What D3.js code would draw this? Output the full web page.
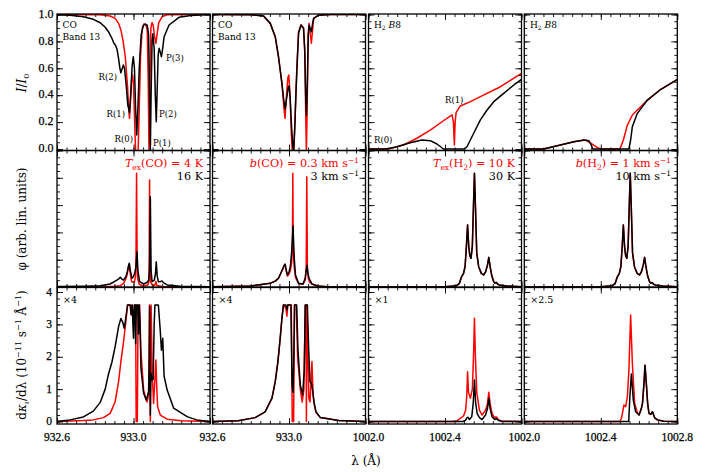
<!DOCTYPE html>
<html><head><meta charset="utf-8">
<script src="https://cdn.jsdelivr.net/npm/d3@7"></script>
<style>body{margin:0;background:#fff} text{font-family:"DejaVu Serif",serif;fill:#000}</style>
</head><body><svg id="c" width="709" height="472"></svg>
<script>
// ---------- DATA ----------
// Top row: normalized intensity I/I0 vs wavelength (Å)
const topCO4K = [[932.600,1.000],[932.826,0.999],[932.878,0.989],[932.904,0.971],[932.922,0.934],[932.934,0.885],[932.945,0.810],[932.957,0.686],[932.969,0.463],[932.975,0.300],[932.979,0.228],[932.984,0.350],[932.990,0.520],[932.995,0.550],[933.000,0.480],[933.006,0.200],[933.011,-0.02],[933.024,-0.02],[933.030,0.300],[933.037,0.700],[933.046,0.900],[933.055,0.930],[933.065,0.925],[933.072,0.880],[933.077,0.500],[933.081,-0.02],[933.085,0.400],[933.091,0.900],[933.097,0.940],[933.103,0.920],[933.110,0.840],[933.117,0.786],[933.124,0.860],[933.132,0.940],[933.150,0.985],[933.176,0.998],[933.400,1.000]];
const topCO16K = [[932.600,0.998],[932.668,0.994],[932.738,0.984],[932.790,0.964],[932.826,0.939],[932.852,0.905],[932.869,0.872],[932.887,0.823],[932.897,0.788],[932.906,0.772],[932.914,0.740],[932.922,0.672],[932.929,0.600],[932.934,0.567],[932.940,0.595],[932.947,0.625],[932.953,0.600],[932.962,0.470],[932.970,0.330],[932.979,0.270],[932.986,0.420],[932.993,0.620],[932.999,0.686],[933.005,0.600],[933.011,0.300],[933.017,0.104],[933.023,0.300],[933.030,0.600],[933.040,0.850],[933.052,0.920],[933.062,0.929],[933.072,0.920],[933.079,0.850],[933.084,0.400],[933.088,-0.02],[933.092,0.400],[933.097,0.800],[933.101,0.856],[933.108,0.750],[933.114,0.400],[933.119,0.203],[933.124,0.450],[933.129,0.700],[933.134,0.749],[933.140,0.720],[933.146,0.686],[933.152,0.740],[933.160,0.835],[933.186,0.922],[933.238,0.979],[933.300,0.993],[933.400,1.000]];
const topCOb03 = [[932.600,1.000],[932.800,0.998],[932.867,0.989],[932.902,0.934],[932.928,0.835],[932.945,0.686],[932.963,0.488],[932.972,0.330],[932.979,0.228],[932.986,0.380],[932.994,0.530],[932.999,0.550],[933.005,0.420],[933.012,0.120],[933.017,-0.02],[933.025,-0.02],[933.031,0.200],[933.037,0.450],[933.042,0.640],[933.050,0.870],[933.063,0.925],[933.076,0.900],[933.083,0.700],[933.088,0.200],[933.091,-0.02],[933.095,0.300],[933.100,0.850],[933.105,0.935],[933.111,0.860],[933.117,0.786],[933.123,0.880],[933.129,0.972],[933.155,0.995],[933.217,1.000],[933.400,1.000]];
const topCOb3 = [[932.600,1.000],[932.800,0.998],[932.867,0.989],[932.902,0.934],[932.928,0.835],[932.945,0.686],[932.963,0.488],[932.973,0.360],[932.980,0.300],[932.988,0.380],[932.996,0.460],[933.000,0.468],[933.006,0.380],[933.014,0.150],[933.020,0.020],[933.024,-0.02],[933.030,0.150],[933.036,0.400],[933.042,0.610],[933.050,0.860],[933.063,0.920],[933.076,0.897],[933.082,0.750],[933.087,0.400],[933.091,0.253],[933.096,0.500],[933.101,0.850],[933.105,0.920],[933.110,0.900],[933.117,0.872],[933.123,0.930],[933.129,0.972],[933.155,0.995],[933.217,1.000],[933.400,1.000]];
const topH2T10 = [[1002.000,0.000],[1002.100,0.000],[1002.140,0.012],[1002.183,0.030],[1002.253,0.080],[1002.323,0.141],[1002.392,0.210],[1002.437,0.253],[1002.444,0.200],[1002.449,0.030],[1002.453,0.200],[1002.458,0.270],[1002.480,0.320],[1002.533,0.352],[1002.585,0.389],[1002.690,0.463],[1002.800,0.563]];
const topH2T30 = [[1002.000,0.000],[1002.095,0.000],[1002.148,0.017],[1002.218,0.047],[1002.279,0.067],[1002.323,0.062],[1002.358,0.037],[1002.392,0.000],[1002.501,0.000],[1002.515,0.017],[1002.550,0.117],[1002.585,0.216],[1002.620,0.290],[1002.655,0.352],[1002.707,0.414],[1002.760,0.476],[1002.800,0.518]];
const topH2b1 = [[1002.000,0.000],[1002.101,0.000],[1002.189,0.030],[1002.259,0.054],[1002.320,0.067],[1002.355,0.037],[1002.381,0.012],[1002.399,0.000],[1002.500,0.000],[1002.518,0.067],[1002.539,0.178],[1002.565,0.253],[1002.591,0.290],[1002.644,0.364],[1002.714,0.444],[1002.801,0.518]];
const topH2b10 = [[1002.000,0.000],[1002.101,0.000],[1002.189,0.030],[1002.259,0.054],[1002.311,0.067],[1002.337,0.062],[1002.350,0.030],[1002.358,0.000],[1002.547,0.000],[1002.556,0.067],[1002.565,0.166],[1002.591,0.265],[1002.644,0.364],[1002.714,0.444],[1002.801,0.518]];

// Middle row: line profile phi (arbitrary linear units)
const phiCO4K = [[932.600,0.000],[932.850,0.002],[932.900,0.006],[932.931,0.010],[932.948,0.027],[932.960,0.060],[932.966,0.088],[932.973,0.140],[932.978,0.168],[932.983,0.100],[932.990,0.040],[933.004,0.032],[933.011,0.080],[933.013,0.200],[933.016,0.833],[933.019,0.200],[933.022,0.060],[933.030,0.020],[933.050,0.007],[933.075,0.015],[933.080,0.040],[933.082,0.200],[933.084,0.784],[933.086,0.200],[933.089,0.040],[933.100,0.010],[933.112,0.015],[933.117,0.040],[933.122,0.012],[933.150,0.003],[933.400,0.000]];
const phiCO16K = [[932.600,0.003],[932.738,0.006],[932.826,0.010],[932.878,0.022],[932.913,0.051],[932.925,0.062],[932.931,0.071],[932.938,0.060],[932.948,0.051],[932.960,0.075],[932.966,0.100],[932.973,0.150],[932.978,0.174],[932.983,0.120],[932.992,0.064],[933.000,0.075],[933.006,0.100],[933.013,0.150],[933.018,0.259],[933.023,0.120],[933.032,0.039],[933.053,0.022],[933.072,0.035],[933.079,0.051],[933.084,0.120],[933.088,0.662],[933.092,0.120],[933.097,0.039],[933.109,0.051],[933.115,0.100],[933.119,0.185],[933.124,0.080],[933.130,0.039],[933.142,0.040],[933.149,0.044],[933.158,0.030],[933.176,0.015],[933.245,0.005],[933.400,0.002]];
const phiCOb03 = [[932.600,0.002],[932.797,0.007],[932.902,0.027],[932.930,0.045],[932.945,0.064],[932.960,0.110],[932.968,0.130],[932.975,0.155],[932.980,0.160],[932.986,0.115],[932.992,0.080],[933.000,0.095],[933.007,0.120],[933.014,0.180],[933.018,0.300],[933.020,0.833],[933.022,0.300],[933.027,0.150],[933.034,0.070],[933.050,0.025],[933.073,0.020],[933.085,0.050],[933.090,0.150],[933.093,0.808],[933.096,0.150],[933.101,0.060],[933.110,0.030],[933.115,0.035],[933.120,0.020],[933.150,0.008],[933.199,0.002],[933.400,0.000]];
const phiCOb3 = [[932.600,0.002],[932.797,0.007],[932.902,0.027],[932.930,0.045],[932.945,0.064],[932.960,0.110],[932.968,0.137],[932.975,0.160],[932.980,0.168],[932.986,0.120],[932.992,0.088],[933.000,0.110],[933.007,0.150],[933.014,0.260],[933.021,0.449],[933.027,0.220],[933.034,0.088],[933.050,0.027],[933.073,0.022],[933.085,0.066],[933.090,0.120],[933.094,0.159],[933.099,0.100],[933.105,0.064],[933.120,0.022],[933.150,0.008],[933.199,0.002],[933.400,0.000]];
const phiH2 = [[1002.000,0.000],[1002.400,0.002],[1002.460,0.010],[1002.475,0.025],[1002.485,0.070],[1002.497,0.100],[1002.505,0.150],[1002.512,0.300],[1002.518,0.454],[1002.524,0.300],[1002.530,0.230],[1002.536,0.210],[1002.543,0.300],[1002.549,0.600],[1002.554,0.833],[1002.559,0.600],[1002.566,0.250],[1002.576,0.149],[1002.590,0.100],[1002.602,0.088],[1002.612,0.110],[1002.622,0.160],[1002.629,0.217],[1002.636,0.150],[1002.645,0.080],[1002.655,0.039],[1002.662,0.028],[1002.669,0.033],[1002.676,0.020],[1002.690,0.012],[1002.725,0.007],[1002.800,0.002]];

// Bottom row: dk/dλ (scaled, clipped at top)
const dkCO4K = [[932.600,0.00],[932.738,0.03],[932.790,0.05],[932.843,0.12],[932.878,0.25],[932.904,0.61],[932.922,1.23],[932.934,1.85],[932.948,2.46],[932.960,3.08],[932.969,3.60],[932.983,3.60],[932.987,3.30],[932.992,3.60],[933.000,3.20],[933.006,3.60],[933.011,3.60],[933.014,0.00],[933.020,0.00],[933.024,3.60],[933.032,3.60],[933.039,2.15],[933.053,0.96],[933.071,0.60],[933.079,0.84],[933.083,3.60],[933.088,0.00],[933.092,3.60],[933.098,1.50],[933.105,0.56],[933.111,1.20],[933.117,1.90],[933.122,1.00],[933.126,0.46],[933.140,0.20],[933.176,0.07],[933.250,0.02],[933.400,0.00]];
const dkCO16K = [[932.600,0.00],[932.668,0.05],[932.738,0.14],[932.790,0.32],[932.826,0.59],[932.852,1.00],[932.869,1.46],[932.887,1.83],[932.904,2.31],[932.922,2.93],[932.934,3.18],[932.943,3.08],[932.952,2.88],[932.962,3.30],[932.969,3.60],[932.983,3.60],[932.988,3.30],[932.993,3.60],[933.000,2.57],[933.004,3.60],[933.008,3.60],[933.011,2.40],[933.015,3.60],[933.022,3.60],[933.026,2.70],[933.030,3.60],[933.034,3.00],[933.039,1.64],[933.053,0.87],[933.067,0.66],[933.079,0.92],[933.083,2.00],[933.085,3.55],[933.088,0.20],[933.091,1.50],[933.097,1.28],[933.103,1.30],[933.108,3.00],[933.112,3.60],[933.130,3.60],[933.140,2.80],[933.146,2.20],[933.153,2.57],[933.160,1.40],[933.176,0.97],[933.210,0.41],[933.280,0.15],[933.330,0.05],[933.400,0.00]];
const dkCOb03 = [[932.600,0.00],[932.735,0.02],[932.823,0.12],[932.875,0.30],[932.911,0.72],[932.928,1.23],[932.942,1.85],[932.954,2.57],[932.963,3.19],[932.971,3.60],[932.984,3.50],[932.989,3.25],[932.994,3.60],[933.012,3.60],[933.017,0.00],[933.024,0.00],[933.029,3.60],[933.038,3.60],[933.045,2.00],[933.059,1.00],[933.069,0.60],[933.078,1.00],[933.085,3.60],[933.089,3.60],[933.091,0.00],[933.094,3.60],[933.099,2.00],[933.104,0.72],[933.110,0.60],[933.115,1.20],[933.120,1.85],[933.126,0.80],[933.131,0.55],[933.141,0.28],[933.164,0.12],[933.260,0.03],[933.400,0.00]];
const dkCOb3 = [[932.600,0.00],[932.735,0.02],[932.823,0.12],[932.875,0.30],[932.911,0.72],[932.928,1.23],[932.942,1.85],[932.954,2.57],[932.963,3.19],[932.971,3.60],[932.984,3.60],[932.989,3.45],[932.994,3.60],[933.010,3.60],[933.016,1.13],[933.021,0.90],[933.025,2.00],[933.029,3.60],[933.040,3.60],[933.047,2.20],[933.059,1.13],[933.071,0.82],[933.080,1.60],[933.085,3.60],[933.096,3.60],[933.103,2.20],[933.110,1.23],[933.117,1.18],[933.124,0.95],[933.131,0.60],[933.141,0.30],[933.164,0.12],[933.260,0.03],[933.400,0.00]];
const dkH2T10 = [[1002.000,0.00],[1002.440,0.00],[1002.463,0.02],[1002.480,0.10],[1002.497,0.17],[1002.508,0.35],[1002.514,0.80],[1002.518,1.54],[1002.523,0.90],[1002.533,0.72],[1002.543,1.00],[1002.549,2.00],[1002.554,3.19],[1002.559,2.00],[1002.566,0.90],[1002.580,0.35],[1002.594,0.20],[1002.612,0.35],[1002.622,0.55],[1002.629,0.90],[1002.636,0.55],[1002.646,0.25],[1002.658,0.12],[1002.669,0.14],[1002.680,0.05],[1002.700,0.01],[1002.800,0.00]];
const dkH2T30 = [[1002.000,0.00],[1002.495,0.00],[1002.508,0.04],[1002.515,0.12],[1002.520,0.13],[1002.528,0.06],[1002.540,0.15],[1002.548,0.60],[1002.554,1.28],[1002.560,0.60],[1002.568,0.25],[1002.580,0.12],[1002.594,0.06],[1002.612,0.20],[1002.622,0.40],[1002.629,0.72],[1002.636,0.40],[1002.646,0.15],[1002.660,0.06],[1002.669,0.09],[1002.680,0.03],[1002.700,0.00],[1002.800,0.00]];
const dkH2b1 = [[1002.000,0.00],[1002.500,0.00],[1002.508,0.10],[1002.513,0.25],[1002.521,0.51],[1002.530,0.46],[1002.539,0.77],[1002.547,1.60],[1002.556,3.29],[1002.565,1.80],[1002.577,0.56],[1002.590,0.30],[1002.600,0.20],[1002.612,0.40],[1002.618,0.56],[1002.626,1.20],[1002.631,1.74],[1002.638,1.18],[1002.645,0.55],[1002.652,0.25],[1002.661,0.22],[1002.670,0.30],[1002.682,0.11],[1002.696,0.05],[1002.730,0.01],[1002.800,0.00]];
const dkH2b10 = [[1002.000,0.00],[1002.546,0.00],[1002.552,0.77],[1002.560,1.47],[1002.570,0.66],[1002.582,0.30],[1002.600,0.20],[1002.612,0.40],[1002.618,0.56],[1002.626,1.20],[1002.631,1.74],[1002.638,1.18],[1002.645,0.55],[1002.652,0.25],[1002.661,0.22],[1002.670,0.30],[1002.682,0.11],[1002.696,0.05],[1002.730,0.01],[1002.800,0.00]];

// Axis ranges and tick labels
const xDomains = [[932.6,933.4],[932.6,933.4],[1002.0,1002.8],[1002.0,1002.8]];
const xTickLabels = [["932.6","933.0"],["932.6","933.0"],["1002.0","1002.4"],["1002.0","1002.4","1002.8"]];
const yTopLabels = ["0.0","0.2","0.4","0.6","0.8","1.0"];
const yBotLabels = ["0","1","2","3","4"];
const scaleLabels = ["×4","×4","×1","×2.5"];

// ---------- LAYOUT ----------
const svg = d3.select("#c");
svg.append("rect").attr("width",709).attr("height",472).attr("fill","#fff");
const colLeft = [57,212.5,368.5,524.3], panelW = 153;
const rowTop = [14,150.5,287.5], panelH = 136.5;
const yScales = [
  d3.scaleLinear().domain([0,1]).range([149,14.5]),
  d3.scaleLinear().domain([0,1]).range([287,150.5]),
  d3.scaleLinear().domain([0,4]).range([421.5,292])
];
const yMajor = [d3.range(0,1.0001,0.2), d3.range(0,1.0001,0.2), d3.range(0,4.001,1)];
const yMinor = [d3.range(0,1.0001,0.05), d3.range(0,1.0001,0.05), d3.range(0,4.001,0.2)];

const curves = [
  [[topCO4K,topCO16K],[topCOb03,topCOb3],[topH2T10,topH2T30],[topH2b1,topH2b10]],
  [[phiCO4K,phiCO16K],[phiCOb03,phiCOb3],[phiH2,phiH2],[phiH2,phiH2]],
  [[dkCO4K,dkCO16K],[dkCOb03,dkCOb3],[dkH2T10,dkH2T30],[dkH2b1,dkH2b10]]
];

const defs = svg.append("defs");
const xScales = colLeft.map((l,c)=>d3.scaleLinear().domain(xDomains[c]).range([l,l+panelW]));

for (let r=0;r<3;r++){
  for (let c=0;c<4;c++){
    const x = xScales[c], y = yScales[r];
    const L = colLeft[c], T = rowTop[r], R = L+panelW, B = T+panelH;
    const id = `clip${r}${c}`;
    defs.append("clipPath").attr("id",id).append("rect").attr("x",L).attr("y",T).attr("width",panelW).attr("height",panelH);
    const g = svg.append("g");
    const line = d3.line().x(d=>x(d[0])).y(d=>y(d[1]));
    const [red,black] = curves[r][c];
    const cg = g.append("g").attr("clip-path",`url(#${id})`);
    cg.append("path").datum(red).attr("d",line).attr("fill","none").attr("stroke","#ff0000").attr("stroke-width",1.5).attr("stroke-linejoin","round");
    cg.append("path").datum(black).attr("d",line).attr("fill","none").attr("stroke","#000").attr("stroke-width",1.5).attr("stroke-linejoin","round");

    // ticks
    const xMaj = d3.range(xDomains[c][0], xDomains[c][1]+1e-6, 0.4);
    const xMin = d3.range(xDomains[c][0], xDomains[c][1]+1e-6, 0.05);
    const tickStyle = s => { s.select(".domain").remove(); s.selectAll("line").attr("stroke","#000").attr("stroke-width",0.9); s.selectAll("text").remove(); };
    g.append("g").attr("transform",`translate(0,${B})`).call(d3.axisBottom(x).tickValues(xMin).tickSize(-3)).call(tickStyle);
    g.append("g").attr("transform",`translate(0,${B})`).call(d3.axisBottom(x).tickValues(xMaj).tickSize(-6)).call(tickStyle);
    g.append("g").attr("transform",`translate(0,${T})`).call(d3.axisTop(x).tickValues(xMin).tickSize(-3)).call(tickStyle);
    g.append("g").attr("transform",`translate(0,${T})`).call(d3.axisTop(x).tickValues(xMaj).tickSize(-6)).call(tickStyle);
    g.append("g").attr("transform",`translate(${L},0)`).call(d3.axisLeft(y).tickValues(yMinor[r]).tickSize(-3)).call(tickStyle);
    g.append("g").attr("transform",`translate(${L},0)`).call(d3.axisLeft(y).tickValues(yMajor[r]).tickSize(-6)).call(tickStyle);
    g.append("g").attr("transform",`translate(${R},0)`).call(d3.axisRight(y).tickValues(yMinor[r]).tickSize(-3)).call(tickStyle);
    g.append("g").attr("transform",`translate(${R},0)`).call(d3.axisRight(y).tickValues(yMajor[r]).tickSize(-6)).call(tickStyle);
    g.append("rect").attr("x",L).attr("y",T).attr("width",panelW).attr("height",panelH).attr("fill","none").attr("stroke","#000").attr("stroke-width",1.3);
  }
}

// x tick labels
xTickLabels.forEach((labs,c)=>{
  labs.forEach(t=>{
    svg.append("text").attr("x",xScales[c](+t)).attr("y",441).attr("text-anchor","middle")
      .style("font-family","'Liberation Serif',serif").attr("font-size",11.5).attr("stroke","#000").attr("stroke-width",0.25).text(t);
  });
});
// y tick labels
yTopLabels.forEach(t=>svg.append("text").attr("x",53.5).attr("y",yScales[0](+t)+3.2).attr("text-anchor","end")
  .style("font-family","'Liberation Serif',serif").attr("font-size",12).attr("stroke","#000").attr("stroke-width",0.25).text(t));
yBotLabels.forEach(t=>svg.append("text").attr("x",52).attr("y",yScales[2](+t)+3.5).attr("text-anchor","end")
  .style("font-family","'Liberation Serif',serif").attr("font-size",11.5).attr("stroke","#000").attr("stroke-width",0.25).text(t));

// panel annotations
function txt(x,y,size,anchor,color){ return svg.append("text").attr("x",x).attr("y",y).attr("font-size",size).attr("text-anchor",anchor).style("fill",color||"#000"); }
txt(62.5,28,9,"start").text("CO");
txt(62.5,40,9,"start").text("Band 13");
txt(218,28,9,"start").text("CO");
txt(218,40,9,"start").text("Band 13");
[[374],[530]].forEach(([xx])=>{
  const t = txt(xx,28,9,"start");
  t.append("tspan").text("H");
  t.append("tspan").attr("font-size",6).attr("dy",2).text("2");
  t.append("tspan").attr("dy",-2).text(" ");
  t.append("tspan").attr("font-style","italic").text("B");
  t.append("tspan").text("8");
});
// line labels
txt(117,80,8.5,"end").text("R(2)");
txt(125,117,8.5,"end").text("R(1)");
txt(133,142,8.5,"end").text("R(0)");
txt(153,146,8.5,"start").text("P(1)");
txt(159,117,8.5,"start").text("P(2)");
txt(166,61,8.5,"start").text("P(3)");
txt(445,103,8.5,"start").text("R(1)");
txt(374,143,8.5,"start").text("R(0)");

// middle row parameter labels
function paramLabel(xEnd,yb,parts,color){
  const t = txt(xEnd,yb,11.2,"end",color);
  parts.forEach(p=>{
    const s = t.append("tspan").text(p.t);
    if(p.it) s.attr("font-style","italic");
    if(p.sub){ s.attr("font-size",7.5).attr("dy",2.5); }
    if(p.sup){ s.attr("font-size",7.5).attr("dy",-4.5); }
    if(p.back) s.attr("dy",p.back);
  });
  return t;
}
paramLabel(203,167,[{t:"T",it:1},{t:"ex",sub:1},{t:"(CO) = 4 K",back:-2.5}],"#ff0000");
paramLabel(203,180,[{t:"16 K"}],"#000");
paramLabel(359,167,[{t:"b",it:1},{t:"(CO) = 0.3 km s"},{t:"−1",sup:1}],"#ff0000");
paramLabel(359,180,[{t:"3 km s"},{t:"−1",sup:1}],"#000");
paramLabel(515,167,[{t:"T",it:1},{t:"ex",sub:1},{t:"(H",back:-2.5},{t:"2",sub:1},{t:") = 10 K",back:-2.5}],"#ff0000");
paramLabel(515,180,[{t:"30 K"}],"#000");
paramLabel(671,167,[{t:"b",it:1},{t:"(H"},{t:"2",sub:1},{t:") = 1 km s",back:-2.5},{t:"−1",sup:1}],"#ff0000");
paramLabel(671,180,[{t:"10 km s"},{t:"−1",sup:1}],"#000");

// bottom scale factors
scaleLabels.forEach((s,c)=>txt(colLeft[c]+6,303,9.5,"start").text(s));

// axis titles
const t1 = svg.append("text").attr("transform","translate(26,83) rotate(-90)").attr("text-anchor","middle").attr("font-size",12);
t1.append("tspan").attr("font-style","italic").text("I");
t1.append("tspan").text("/");
t1.append("tspan").attr("font-style","italic").text("I");
t1.append("tspan").attr("font-size",8).attr("dy",3).text("0");
svg.append("text").attr("transform","translate(26,219) rotate(-90)").attr("text-anchor","middle").attr("font-size",12).text("φ (arb. lin. units)");
const t3 = svg.append("text").attr("transform","translate(26,355) rotate(-90)").attr("text-anchor","middle").attr("font-size",12);
t3.append("tspan").text("d");
t3.append("tspan").attr("font-style","italic").text("κ");
t3.append("tspan").attr("font-size",8).attr("dy",3).attr("font-style","italic").text("ι");
t3.append("tspan").attr("dy",-3).text("/dλ (10");
t3.append("tspan").attr("font-size",8).attr("dy",-5).text("−11");
t3.append("tspan").attr("dy",5).text(" s");
t3.append("tspan").attr("font-size",8).attr("dy",-5).text("−1");
t3.append("tspan").attr("dy",5).text(" Å");
t3.append("tspan").attr("font-size",8).attr("dy",-5).text("−1");
t3.append("tspan").attr("dy",5).text(")");
svg.append("text").attr("x",366).attr("y",465).attr("text-anchor","middle").attr("font-size",12).text("λ (Å)");
</script></body></html>
